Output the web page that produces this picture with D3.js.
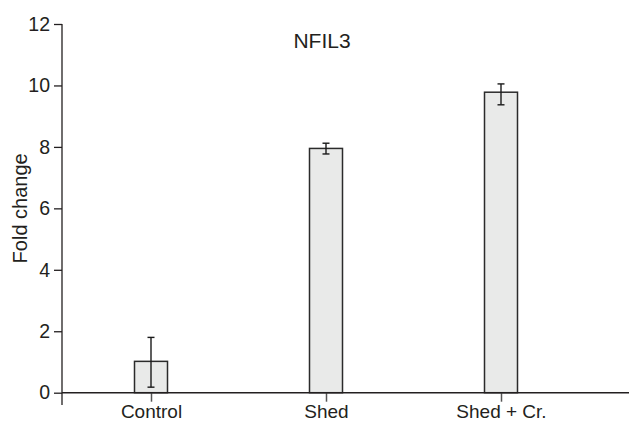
<!DOCTYPE html>
<html>
<head>
<meta charset="utf-8">
<script src="https://cdn.jsdelivr.net/npm/d3@7"></script>
<style>
  html, body { margin: 0; padding: 0; background: #fff; }
  svg { display: block; font-family: "Liberation Sans", Arial, Helvetica, sans-serif; }
</style>
</head>
<body>
<svg id="chart" width="629" height="423"></svg>
<script>
// values
const categories = ["Control", "Shed", "Shed + Cr."];
const foldChange = [1.02, 7.95, 9.78];
const errLow = [0.18, 7.77, 9.37];
const errHigh = [1.80, 8.12, 10.05];
const yTicks = [0, 2, 4, 6, 8, 10, 12];
const title = "NFIL3";
const yLabel = "Fold change";

const W = 629, H = 423;
const ink = "#231f20";

const svg = d3.select("#chart");

// y runs from 0 at the baseline up to 12 at the top tick
const y = d3.scaleLinear().domain([0, 12]).range([392.7, 24]);
// category centres
const x = d3.scalePoint().domain(categories).range([151, 501]);
const barWidth = 33;
const axisX = 62;

const data = categories.map((c, i) => ({
    name: c, value: foldChange[i], lo: errLow[i], hi: errHigh[i]
}));

/* y axis: ticks on the left, the line itself drawn by hand so it can run past 0 */
const yAxis = svg.append("g")
    .attr("transform", `translate(${axisX},0)`)
    .call(d3.axisLeft(y).tickValues(yTicks).tickSize(8).tickPadding(4).tickFormat(d3.format("d")));
yAxis.select(".domain").remove();
yAxis.selectAll(".tick line").attr("stroke", ink).attr("stroke-width", 1.3);
yAxis.selectAll(".tick text")
    .attr("fill", ink)
    .attr("font-size", "19.5px")
    .attr("font-family", "Liberation Sans, Arial, sans-serif");

svg.append("line")
    .attr("x1", axisX).attr("x2", axisX)
    .attr("y1", y(12)).attr("y2", 405)
    .attr("stroke", ink).attr("stroke-width", 1.3);

// bars
svg.append("g").attr("id", "bars")
    .selectAll("rect")
    .data(data)
    .enter()
    .append("rect")
    .attr("x", d => x(d.name) - barWidth / 2)
    .attr("y", d => y(d.value))
    .attr("width", barWidth)
    .attr("height", d => y(0) - y(d.value))
    .attr("fill", "#e9eae9")
    .attr("stroke", "#2b2b2b")
    .attr("stroke-width", 1.5);

/* x axis: baseline across the whole width, ticks hanging down */
const xAxis = svg.append("g")
    .attr("transform", `translate(0,${y(0)})`)
    .call(d3.axisBottom(x).tickSize(9).tickPadding(3));
xAxis.select(".domain").remove();
xAxis.selectAll(".tick line").attr("stroke", "#555").attr("stroke-width", 1.5);
xAxis.selectAll(".tick text")
    .attr("fill", ink)
    .attr("font-size", "19px")
    .attr("font-family", "Liberation Sans, Arial, sans-serif");

svg.append("line")
    .attr("x1", axisX).attr("x2", W)
    .attr("y1", y(0)).attr("y2", y(0))
    .attr("stroke", ink).attr("stroke-width", 1.5);

// error bars
const capHalf = 3.5;
const err = svg.append("g").attr("id", "errors")
    .selectAll("g")
    .data(data)
    .enter()
    .append("g")
    .attr("stroke", "#1a1a1a")
    .attr("stroke-width", 1.4);

err.append("line")
    .attr("x1", d => x(d.name)).attr("x2", d => x(d.name))
    .attr("y1", d => y(d.lo)).attr("y2", d => y(d.hi));
err.append("line")
    .attr("x1", d => x(d.name) - capHalf).attr("x2", d => x(d.name) + capHalf)
    .attr("y1", d => y(d.hi)).attr("y2", d => y(d.hi));
err.append("line")
    .attr("x1", d => x(d.name) - capHalf).attr("x2", d => x(d.name) + capHalf)
    .attr("y1", d => y(d.lo)).attr("y2", d => y(d.lo));

// title and axis label
svg.append("text")
    .attr("x", 322).attr("y", 48)
    .attr("text-anchor", "middle")
    .attr("fill", ink)
    .attr("font-size", "21px")
    .text(title);

svg.append("text")
    .attr("transform", `translate(27,${(y(0) + y(12)) / 2}) rotate(-90)`)
    .attr("text-anchor", "middle")
    .attr("fill", ink)
    .attr("font-size", "20px")
    .text(yLabel);
</script>
</body>
</html>
